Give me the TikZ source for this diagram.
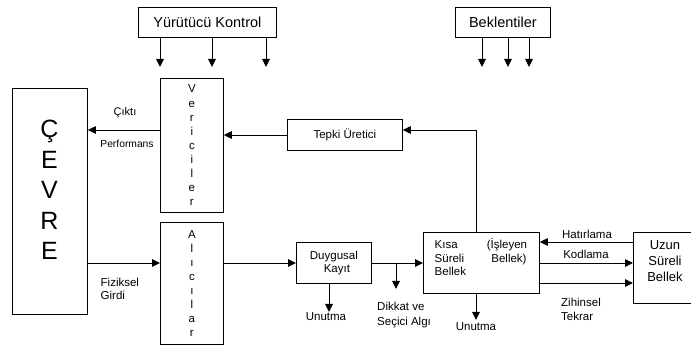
\documentclass[tikz,border=0pt]{standalone}
\usepackage{fontspec}
\setmainfont{Liberation Sans}
\usetikzlibrary{arrows.meta}
\tikzset{
  box/.style={draw, line width=0.8pt, inner sep=0pt, align=center},
  arr/.style={line width=0.9pt, -{Triangle[length=8pt,width=7.5pt]}},
  lbl/.style={inner sep=0pt, align=left},
}
\begin{document}
\begin{tikzpicture}[x=1pt,y=-1pt]
\useasboundingbox (0,0) rectangle (691,347);
\clip (0,0) rectangle (691,347);

% control boxes on top
\node[box, minimum width=138pt, minimum height=30pt, anchor=north west,
      font=\fontsize{14.5}{16}\selectfont] (yk) at (138,7) {Yürütücü Kontrol};
\node[box, minimum width=95pt, minimum height=30pt, anchor=north west,
      font=\fontsize{14.5}{16}\selectfont] (bek) at (455,7) {Beklentiler};

% environment
\node[box, minimum width=75pt, minimum height=226pt, anchor=north west] (cevre) at (12,88) {};
\node[inner sep=0pt, align=center, font=\fontsize{25}{30.5}\selectfont] (cevreT) at (49.5,190) {Ç\\E\\V\\R\\E};

% effectors and receptors
\node[box, minimum width=63pt, minimum height=134pt, anchor=north west,
      font=\fontsize{11.5}{14.1}\selectfont] (ver) at (160,78) {V\\e\\r\\i\\c\\i\\l\\e\\r};
\node[box, minimum width=63pt, minimum height=122pt, anchor=north west,
      font=\fontsize{11.5}{13.9}\selectfont] (alic) at (160,222) {A\\l\\ı\\c\\ı\\l\\a\\r};

% processing chain
\node[box, minimum width=115pt, minimum height=31pt, anchor=north west,
      font=\fontsize{11.5}{13}\selectfont] (tepki) at (287,119) {Tepki Üretici};
\node[box, minimum width=75pt, minimum height=41pt, anchor=north west,
      font=\fontsize{11.5}{13}\selectfont] (duy) at (296,242) {Duygusal\\[-0.5pt]\hspace*{6pt}Kayıt};
\node[box, minimum width=116pt, minimum height=61pt, anchor=north west] (kisa) at (423,232) {};
\node[lbl, anchor=west, font=\fontsize{11.5}{13.5}\selectfont] (kisaL) at (434.5,258.5) {Kısa\\Süreli\\Bellek};
\node[inner sep=0pt, align=center, font=\fontsize{11.5}{13.5}\selectfont] (kisaR) at (507,251.5) {(İşleyen\\\hspace*{4pt}Bellek)};
\node[box, minimum width=64pt, minimum height=71pt, anchor=north west] (uzun) at (633,232) {};
\node[inner sep=0pt, align=center, font=\fontsize{13}{16}\selectfont] (uzunT) at (665,261) {Uzun\\Süreli\\Bellek};

% arrow ends without a target box
\coordinate (yk1) at (160,67);
\coordinate (yk2) at (212,67);
\coordinate (yk3) at (266,67);
\coordinate (bk1) at (482,67);
\coordinate (bk2) at (508,67);
\coordinate (bk3) at (529,67);
\coordinate (dik) at (396,289);
\coordinate (un1) at (329,312);
\coordinate (un2) at (476,320);

\foreach \c in {yk1,yk2,yk3}{\draw[arr] (yk.south -| \c) -- (\c);}
\foreach \c in {bk1,bk2,bk3}{\draw[arr] (bek.south -| \c) -- (\c);}

% connectors
\draw[arr] (ver.west |- 0,130) -- (cevre.east |- 0,130);
\draw[arr] (tepki.west |- 0,135) -- (ver.east |- 0,135);
\draw[arr] (kisa.north -| un2) |- (tepki.east |- 0,130);
\draw[arr] (cevre.east |- 0,263) -- (alic.west |- 0,263);
\draw[arr] (alic.east |- 0,263) -- (duy.west |- 0,263);
\draw[arr] (duy.east |- 0,263) -- (kisa.west |- 0,263);
\draw[arr] (dik |- 0,263) -- (dik);
\draw[arr] (duy.south -| un1) -- (un1);
\draw[arr] (kisa.south -| un2) -- (un2);
\draw[arr] (uzun.west |- 0,242) -- (kisa.east |- 0,242);
\draw[arr] (kisa.east |- 0,263) -- (uzun.west |- 0,263);
\draw[arr] (kisa.east |- 0,283) -- (uzun.west |- 0,283);

% labels
\node[inner sep=0pt, font=\fontsize{11}{13}\selectfont] (cikti) at (125,113) {Çıktı};
\node[inner sep=0pt, font=\fontsize{10.3}{12}\selectfont] (perf) at (127,144) {Performans};
\node[lbl, anchor=west, font=\fontsize{11.5}{13}\selectfont] (fiz) at (100.5,288.5) {Fiziksel\\Girdi};
\node[lbl, anchor=west, font=\fontsize{11.5}{15}\selectfont] (dikT) at (377,315.5) {Dikkat ve\\Seçici Algı};
\node[inner sep=0pt, font=\fontsize{11.5}{13}\selectfont] (unT1) at (326,317) {Unutma};
\node[inner sep=0pt, font=\fontsize{11.5}{13}\selectfont] (unT2) at (476,326.5) {Unutma};
\node[inner sep=0pt, font=\fontsize{11.5}{13}\selectfont] (hat) at (587,234) {Hatırlama};
\node[inner sep=0pt, font=\fontsize{11.5}{13}\selectfont] (kod) at (586,254) {Kodlama};
\node[lbl, anchor=west, font=\fontsize{11.5}{14}\selectfont] (zih) at (561,309) {Zihinsel\\Tekrar};
\end{tikzpicture}
\end{document}
